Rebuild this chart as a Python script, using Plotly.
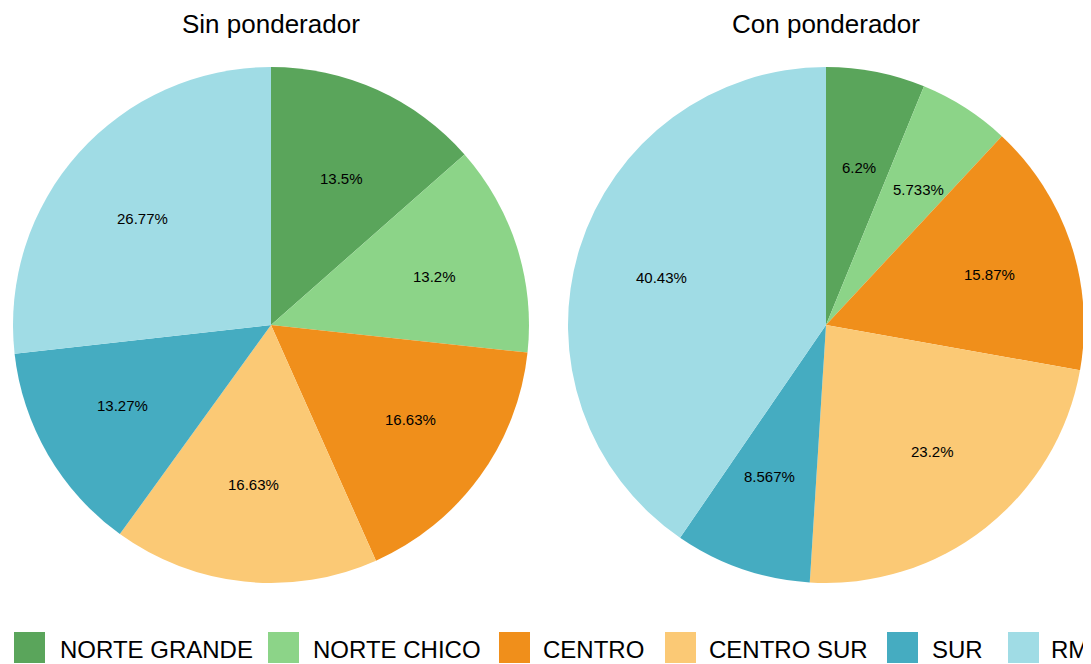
import math
import plotly.graph_objects as go

categories = ["NORTE GRANDE", "NORTE CHICO", "CENTRO", "CENTRO SUR", "SUR", "RM"]
sin_vals = [13.5, 13.2, 16.63, 16.63, 13.27, 26.77]
con_vals = [6.2, 5.733, 15.87, 23.2, 8.567, 40.43]
sin_labels = ["13.5%", "13.2%", "16.63%", "16.63%", "13.27%", "26.77%"]
con_labels = ["6.2%", "5.733%", "15.87%", "23.2%", "8.567%", "40.43%"]
titles = ["Sin ponderador", "Con ponderador"]
colors = ["#5AA55B", "#8CD488", "#F08F1B", "#FBC975", "#45ACC1", "#A0DCE5"]

W, H = 1091, 664
OFF = 8  # page body margin
FONT = "Liberation Sans, Arial, sans-serif"


def fx(px):
    return (px - OFF) / W


def fy(py):
    return 1 - (py - OFF) / H


R = 258
centers = [(271, 325), (826, 325)]

fig = go.Figure()
for vals, labs, (cx, cy) in zip([sin_vals, con_vals], [sin_labels, con_labels], centers):
    fig.add_trace(go.Pie(
        labels=categories, values=vals, textinfo="none",
        sort=False, direction="clockwise", rotation=0,
        marker=dict(colors=colors, line=dict(width=0)),
        domain=dict(x=[fx(cx - R), fx(cx + R)], y=[fy(cy + R), fy(cy - R)]),
        showlegend=False, hoverinfo="label+value",
    ))
    # slice labels at mid-angle of each slice
    total = sum(vals)
    cum = 0.0
    for v, lab in zip(vals, labs):
        mid = (cum + v / 2) / total * 2 * math.pi
        cum += v
        px = cx + 0.667 * R * math.sin(mid)
        py = cy - 0.622 * R * math.cos(mid)
        fig.add_annotation(text=lab, x=fx(px), y=fy(py), xref="paper", yref="paper",
                           showarrow=False, font=dict(size=15, color="black", family=FONT),
                           xanchor="center", yanchor="middle")

# titles
for t, (cx, cy) in zip(titles, centers):
    fig.add_annotation(text=t, x=fx(cx), y=fy(24), xref="paper", yref="paper",
                       showarrow=False, font=dict(size=26, color="black", family=FONT),
                       xanchor="center", yanchor="middle")

# legend
sw_x = [14, 268, 499, 665, 887, 1008]
tx_x = [58, 311, 541, 707, 930, 1049]
for cat, col, x0, tx in zip(categories, colors, sw_x, tx_x):
    fig.add_shape(type="rect", xref="paper", yref="paper",
                  x0=fx(x0), x1=fx(x0 + 31), y0=fy(663), y1=fy(632),
                  fillcolor=col, line=dict(width=0))
    fig.add_annotation(text=cat, x=fx(tx), y=fy(649), xref="paper", yref="paper",
                       showarrow=False, font=dict(size=24, color="black", family=FONT),
                       xanchor="left", yanchor="middle")

fig.update_layout(width=W, height=H, margin=dict(l=0, r=0, t=0, b=0),
                  paper_bgcolor="white", plot_bgcolor="white")
fig.write_html("out.html")
